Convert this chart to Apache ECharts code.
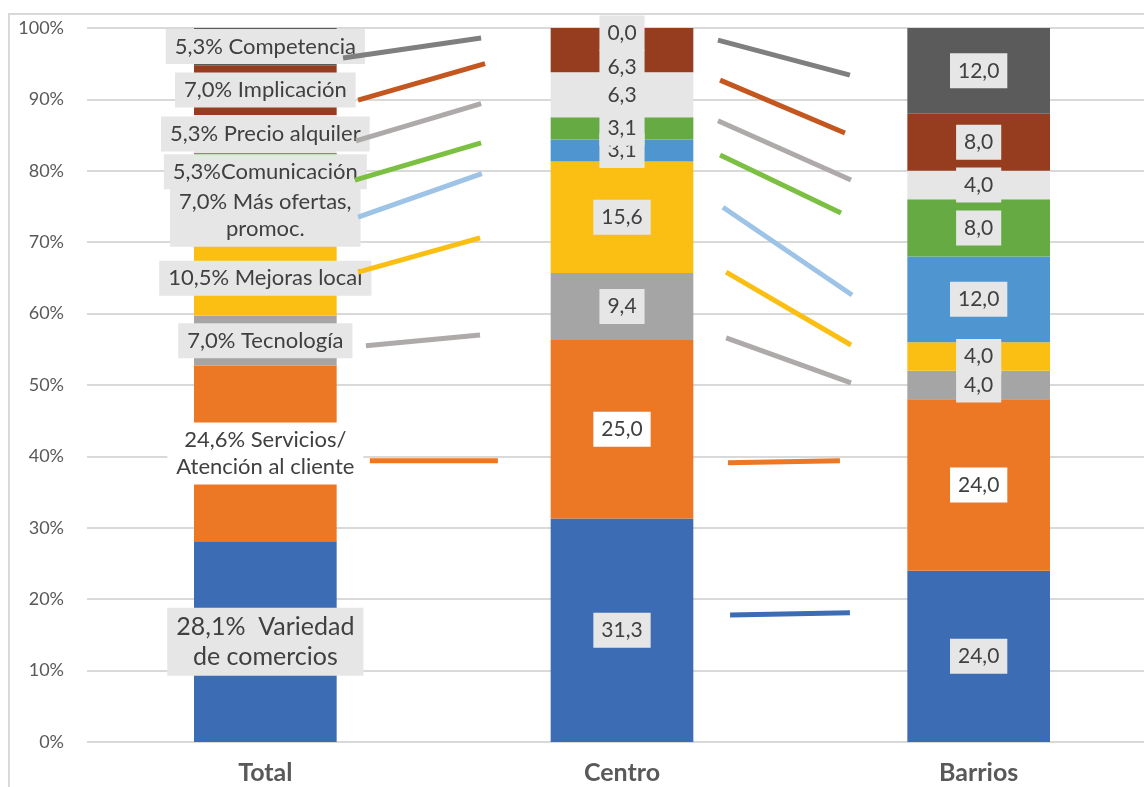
<!DOCTYPE html>
<html>
<head>
<meta charset="utf-8">
<title>Motivos por zona</title>
<script src="https://cdn.jsdelivr.net/npm/echarts@6.0.0/dist/echarts.min.js"></script>
<style>
  html, body { margin: 0; padding: 0; background: #fff; }
  #main { width: 1144px; height: 787px; }
</style>
</head>
<body>
<div id="main"></div>
<script>
// categorias del eje x
var categories = ['Total', 'Centro', 'Barrios'];
// series, de abajo hacia arriba
var seriesNames = ['Variedad de comercios', 'Servicios/Atención al cliente', 'Tecnología', 'Mejoras local',
  'Más ofertas, promoc.', 'Comunicación', 'Precio alquiler', 'Implicación', 'Competencia'];
var totalVals   = [28.1, 24.6, 7.0, 10.5, 7.0, 5.3, 5.3, 7.0, 5.3];
var centroVals  = [31.3, 25.0, 9.4, 15.6, 3.1, 3.1, 6.3, 6.3, 0.0];
var barriosVals = [24.0, 24.0, 4.0, 4.0, 12.0, 8.0, 4.0, 8.0, 12.0];
// etiquetas de la columna Total
var totalLabels = ['28,1%  Variedad\nde comercios', '24,6% Servicios/\nAtención al cliente', '7,0% Tecnología',
  '10,5% Mejoras local', '7,0% Más ofertas,\npromoc.', '5,3%Comunicación', '5,3% Precio alquiler',
  '7,0% Implicación', '5,3% Competencia'];
var yTicks = [0, 10, 20, 30, 40, 50, 60, 70, 80, 90, 100];

// lineas de union entre columnas: [x0, y0, x1, y1] (x en unidades de categoria, y en %)
var linksTotalCentro = [
  [0.718, 95.8, 1.105, 98.6],   // Competencia
  [0.760, 89.9, 1.116, 95.0],   // Implicación
  [0.754, 84.2, 1.105, 89.4],   // Precio alquiler
  [0.751, 78.7, 1.105, 83.9],   // Comunicación
  [0.760, 73.5, 1.107, 79.6],   // Más ofertas
  [0.760, 65.8, 1.102, 70.6],   // Mejoras local
  [0.782, 55.5, 1.102, 57.0],   // Tecnología
  [0.793, 39.4, 1.152, 39.4]    // Servicios
];
var linksCentroBarrios = [
  [1.769, 98.3, 2.139, 93.4],
  [1.775, 92.7, 2.125, 85.3],
  [1.769, 87.0, 2.142, 78.7],
  [1.775, 82.2, 2.114, 74.1],
  [1.783, 74.9, 2.145, 62.6],
  [1.792, 65.8, 2.142, 55.6],
  [1.792, 56.6, 2.142, 50.3],
  [1.797, 39.1, 2.111, 39.4],
  [1.803, 17.8, 2.139, 18.1]    // Variedad
];

var barColors = ['#3C6CB4', '#EC7724', '#A5A5A5', '#FBBF14', '#4F95D0', '#66AA44', '#E7E6E6', '#973D1F', '#5A5B5A'];
var linkColorsLeft = ['#7F7F7F', '#C4561F', '#AEAAAA', '#7CC043', '#9DC3E6', '#FBBF14', '#AEAAAA', '#EC7724'];
var linkColorsRight = ['#7F7F7F', '#C4561F', '#AEAAAA', '#7CC043', '#9DC3E6', '#FBBF14', '#AEAAAA', '#EC7724', '#3C6CB4'];

var FONT = 'Lato, "Open Sans", sans-serif';

function fmt(v) {
  return v.toFixed(1).replace('.', ',');
}

var myChart = echarts.init(document.getElementById('main'));

var series = [];
seriesNames.forEach(function (name, i) {
  var vals = [totalVals[i], centroVals[i], barriosVals[i]];
  var bg = i === 1 ? '#FFFFFF' : '#E7E6E6';
  var data = vals.map(function (v, j) {
    var lab;
    if (j === 0) {
      lab = {
        formatter: totalLabels[i],
        fontSize: i === 0 ? 25 : 22,
        lineHeight: i === 0 ? 30 : 27,
        padding: [4, 9]
      };
    } else {
      lab = { formatter: fmt(v), fontSize: 21, lineHeight: 25, padding: [5, 8] };
      // etiqueta movida a mano en el original
      if (j === 1 && i === 7) lab.offset = [0, 17];
    }
    return { value: v, label: lab };
  });
  series.push({
    name: name,
    type: 'bar',
    stack: 'zona',
    barWidth: '40%',
    itemStyle: { color: barColors[i] },
    label: {
      show: true,
      position: 'inside',
      color: '#404040',
      fontFamily: FONT,
      backgroundColor: bg
    },
    data: data,
    silent: true
  });
});

// las barras de altura 0 no muestran etiqueta: se pinta aparte sobre la pila
var zeroLabels = [];
[totalVals, centroVals, barriosVals].forEach(function (vals, j) {
  var sum = 0;
  vals.forEach(function (v) { sum += v; });
  if (vals[vals.length - 1] === 0) zeroLabels.push([j, Math.min(sum, 100)]);
});
series.push({
  type: 'scatter',
  symbol: 'rect',
  symbolSize: 1,
  clip: false,
  silent: true,
  z: 20,
  itemStyle: { color: '#E7E6E6', opacity: 1 },
  label: {
    show: true,
    position: 'inside',
    offset: [0, 5],
    opacity: 1,
    formatter: function () { return fmt(0); },
    color: '#404040',
    fontFamily: FONT,
    fontSize: 21,
    lineHeight: 25,
    padding: [5, 8],
    backgroundColor: '#E7E6E6'
  },
  data: zeroLabels
});

function addLinks(list, colors) {
  list.forEach(function (l, k) {
    series.push({
      type: 'line',
      xAxisIndex: 1,
      symbol: 'none',
      silent: true,
      z: 10,
      lineStyle: { width: 5, color: colors[k], cap: 'butt' },
      data: [[l[0], l[1]], [l[2], l[3]]]
    });
  });
}
addLinks(linksTotalCentro, linkColorsLeft);
addLinks(linksCentroBarrios, linkColorsRight);

var option = {
  animation: false,
  backgroundColor: '#FFFFFF',
  textStyle: { fontFamily: FONT },
  graphic: [{
    type: 'rect',
    z: -10,
    shape: { x: 9, y: 14, width: 1300, height: 900 },
    style: { fill: 'none', stroke: '#D9D9D9', lineWidth: 2 }
  }],
  grid: { left: 87, top: 28, width: 1070, bottom: 45, outerBoundsMode: 'none', containLabel: false },
  xAxis: [{
    type: 'category',
    data: categories,
    axisLine: { show: false },
    axisTick: { show: false },
    axisLabel: { fontSize: 25, fontWeight: 'bold', color: '#595959', fontFamily: FONT, margin: 18 }
  }, {
    type: 'value',
    min: 0,
    max: 3,
    show: false
  }],
  yAxis: {
    type: 'value',
    min: yTicks[0],
    max: yTicks[yTicks.length - 1],
    interval: yTicks[1] - yTicks[0],
    axisLine: { show: false },
    axisTick: { show: false },
    axisLabel: { formatter: '{value}%', fontSize: 18, color: '#595959', fontFamily: FONT, margin: 23 },
    splitLine: { lineStyle: { color: '#D9D9D9', width: 2 } }
  },
  series: series
};

myChart.setOption(option);
</script>
</body>
</html>
